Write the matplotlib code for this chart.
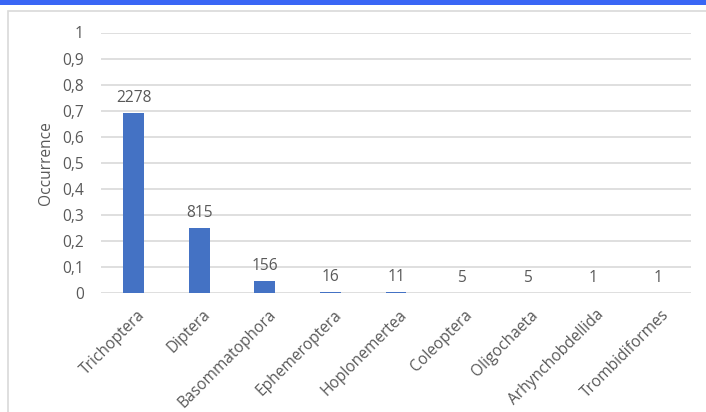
import matplotlib
matplotlib.use("Agg")
import matplotlib.pyplot as plt
from matplotlib.patches import Rectangle
import matplotlib.transforms as mtransforms
import numpy as np

orders = ["Trichoptera", "Diptera", "Basommatophora", "Ephemeroptera",
          "Hoplonemertea", "Coleoptera", "Oligochaeta", "Arhynchobdellida",
          "Trombidiformes"]
counts = [2278, 815, 156, 16, 11, 5, 5, 1, 1]
yticks = [0, 0.1, 0.2, 0.3, 0.4, 0.5, 0.6, 0.7, 0.8, 0.9, 1]
ytick_labels = ["0", "0,1", "0,2", "0,3", "0,4", "0,5", "0,6", "0,7", "0,8", "0,9", "1"]

occurrence = np.array(counts) / sum(counts)

plt.rcParams["font.family"] = ["Open Sans", "DejaVu Sans"]
text_color = "#595959"
grid_color = "#d9d9d9"
bar_color = "#4472c4"
fs = 11.2

W, H = 706, 412
fig = plt.figure(figsize=(W / 100, H / 100), dpi=100)

# top accent band and chart frame, kept behind the axes
fig.patches.append(Rectangle((0, 1 - 5 / H), 1, 5 / H, transform=fig.transFigure,
                             facecolor="#3a66f5", edgecolor="none", zorder=-10))
fig.patches.append(Rectangle((8 / W, -0.1), 1.2, 1 - 11 / H + 0.1, transform=fig.transFigure,
                             facecolor="white", edgecolor=grid_color, linewidth=1.2, zorder=-10))

ax = fig.add_axes([101 / W, 1 - 293 / H, 590 / W, 260.5 / H])
ax.set_zorder(5)
ax.patch.set_visible(False)
x = np.arange(len(orders))
ax.bar(x, occurrence, width=0.32, color=bar_color, zorder=3)

for xi, yi, c in zip(x, occurrence, counts):
    ax.annotate(str(c), (xi, yi), xytext=(0, 5), textcoords="offset points",
                ha="center", va="bottom", fontsize=fs, color=text_color)

ax.set_xlim(-0.5, len(orders) - 0.5)
ax.set_ylim(0, 1)
ax.set_yticks(yticks)
ax.set_yticklabels(ytick_labels)
ax.yaxis.grid(True, color=grid_color, linewidth=1.2, zorder=0)
ax.set_axisbelow(True)
for s in ax.spines.values():
    s.set_visible(False)
ax.tick_params(axis="both", length=0, colors=text_color, labelsize=fs)
ax.tick_params(axis="y", pad=12.5)
ax.set_xticks(x)
ax.set_xticklabels(orders, rotation=45, ha="right", rotation_mode="anchor")
ax.tick_params(axis="x", pad=10)
shift = mtransforms.ScaledTranslation(3 / 100, 0, fig.dpi_scale_trans)
for lbl in ax.get_xticklabels():
    lbl.set_transform(lbl.get_transform() + shift)

fig.text(46 / W, 1 - 163 / H, "Occurrence", rotation=90, ha="center", va="center",
         fontsize=fs, color=text_color)

fig.savefig("out.png", dpi=100)
